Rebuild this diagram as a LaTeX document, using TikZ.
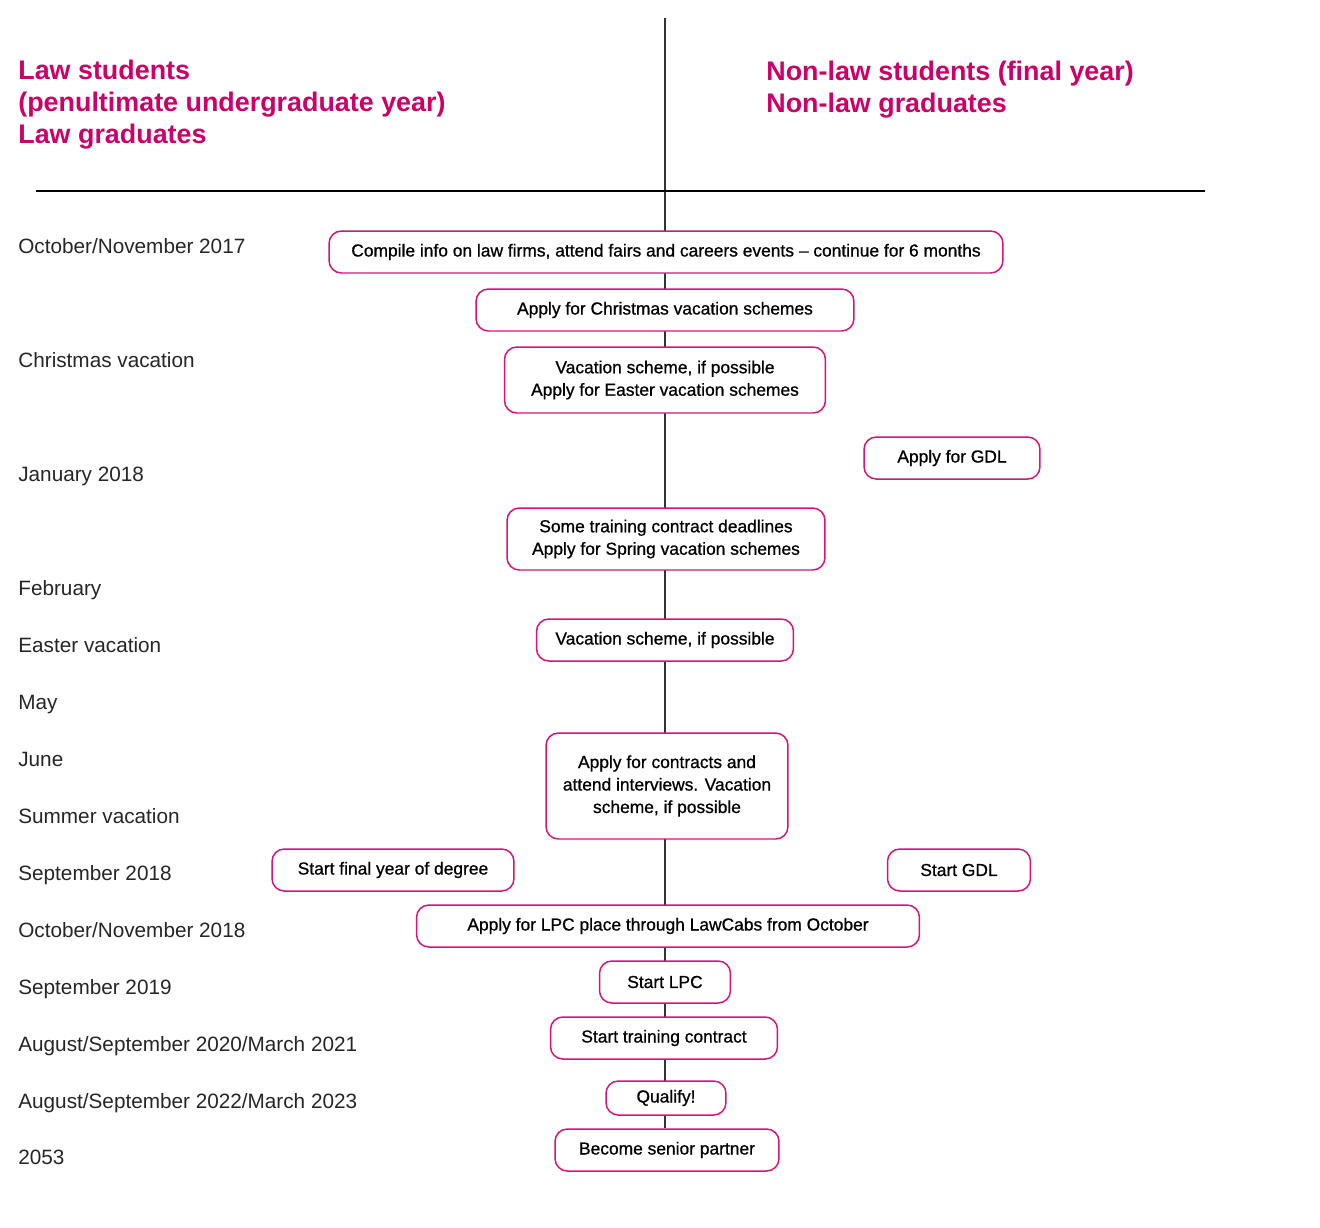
\documentclass[tikz,border=0pt]{standalone}
\usepackage{fontspec}
\usepackage{tikz}
\usetikzlibrary{backgrounds}
\setmainfont{Liberation Sans}
\newfontfamily\boxfont[FakeBold=0.8]{Liberation Sans}

\definecolor{lawpink}{RGB}{204,0,102}
\definecolor{boxpink}{RGB}{214,20,120}

\tikzset{
    stage/.style={draw=boxpink, line width=0.85pt, rounded corners=7pt, fill=white,
        align=center, inner sep=0pt, minimum height=0.84cm,
        font=\fontsize{9.9}{12.8}\selectfont\boxfont},
    when/.style={anchor=base west, inner sep=0pt, text=black!85,
        font=\fontsize{11.8}{14}\selectfont},
    heading/.style={anchor=north west, inner sep=0pt, align=left, text=lawpink,
        font=\fontsize{15.3}{18.2}\selectfont\bfseries}
}

\begin{document}
\begin{tikzpicture}[x=0.02cm, y=-0.02cm]
        \useasboundingbox (0,0) rectangle (1320,1228);

        % headings
        \node[heading] (lawhead) at (18,60) {Law students\\(penultimate undergraduate year)\\Law graduates};
        \node[heading] (nonlawhead) at (766,61) {Non-law students (final year)\\Non-law graduates};

        \coordinate (top) at (665,18);
        \coordinate (hl) at (36,191);
        \coordinate (hr) at (1205,191);
        \draw[line width=0.8pt] (hl) -- (hr);

        % dates
        \node[when] (d1) at (18,253.5) {October/November 2017};
        \node[when] (d2) at (18,367.5) {Christmas vacation};
        \node[when] (d3) at (18,481.5) {January 2018};
        \node[when] (d4) at (18,595.5) {February};
        \node[when] (d5) at (18,652.5) {Easter vacation};
        \node[when] (d6) at (18,709.5) {May};
        \node[when] (d7) at (18,766.5) {June};
        \node[when] (d8) at (18,823.5) {Summer vacation};
        \node[when] (d9) at (18,880.5) {September 2018};
        \node[when] (d10) at (18,937.5) {October/November 2018};
        \node[when] (d11) at (18,994.5) {September 2019};
        \node[when] (d12) at (18,1051.5) {August/September 2020/March 2021};
        \node[when] (d13) at (18,1108.5) {August/September 2022/March 2023};
        \node[when] (d14) at (18,1164.5) {2053};

        % stages
        \node[stage, minimum width=13.48cm] (compile) at (666,252) {Compile info on law firms, attend fairs and careers events – continue for 6 months};
        \node[stage, minimum width=7.56cm] (xmas) at (665,310) {Apply for Christmas vacation schemes};
        \node[stage, minimum width=6.42cm, minimum height=1.32cm] (easter) at (665,380) {Vacation scheme, if possible\\Apply for Easter vacation schemes};
        \node[stage, minimum width=3.52cm] (gdl) at (952,458) {Apply for GDL};
        \node[stage, minimum width=6.36cm, minimum height=1.24cm] (spring) at (666,539) {Some training contract deadlines\\Apply for Spring vacation schemes};
        \node[stage, minimum width=5.14cm] (vac) at (665,640) {Vacation scheme, if possible};
        \node[stage, minimum width=4.84cm, minimum height=2.12cm] (contracts) at (667,786) {Apply for contracts and\\attend interviews. Vacation\\scheme, if possible};
        \node[stage, minimum width=4.84cm] (final) at (393,870) {Start final year of degree};
        \node[stage, minimum width=2.86cm] (startgdl) at (959,870) {Start GDL};
        \node[stage, minimum width=10.06cm] (lpcplace) at (668,926) {Apply for LPC place through LawCabs from October};
        \node[stage, minimum width=2.62cm] (lpc) at (665,982) {Start LPC};
        \node[stage, minimum width=4.54cm] (training) at (664,1038) {Start training contract};
        \node[stage, minimum width=2.40cm, minimum height=0.68cm] (qualify) at (666,1098) {Qualify!};
        \node[stage, minimum width=4.48cm] (senior) at (667,1150) {Become senior partner};

        \begin{pgfonlayer}{background}
            \draw[line width=0.8pt, black!80] (top) -- (top |- senior.north);
        \end{pgfonlayer}
    \end{tikzpicture}
\end{document}
